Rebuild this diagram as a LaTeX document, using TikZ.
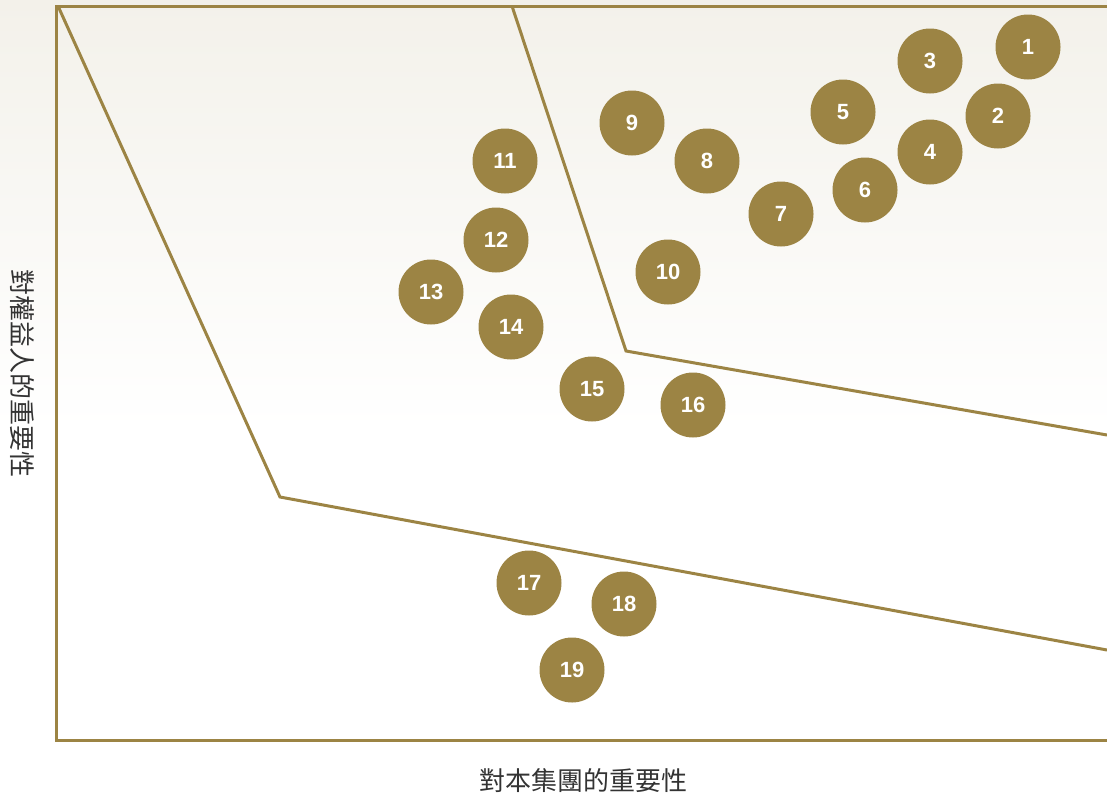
\documentclass[tikz,border=0pt]{standalone}
\usepackage{fontspec}
\setmainfont{Liberation Sans}
\newfontfamily\cjk{Noto Sans CJK TC}
\usepackage{tikz}
\usetikzlibrary{positioning}
\usepackage{xcolor}
\definecolor{gold}{HTML}{9C8444}
\definecolor{paper}{HTML}{F3F1EA}
\definecolor{labelgray}{HTML}{333333}

\begin{document}
\begin{tikzpicture}[x=1pt, y=-1pt,
    dot/.style={circle, fill=gold, text=white, minimum size=65pt, inner sep=0pt, font=\fontsize{22}{22}\selectfont\bfseries},
    zone/.style={draw=gold, line width=3pt, line join=miter}]
    \useasboundingbox (0,0) rectangle (1107,798);
    \shade[top color=paper, bottom color=white] (0,0) rectangle (1107,430);
    % axes
    \draw[zone] (1107,6) -- (56,6) -- (56,740) -- (1107,740);
    % zone borders
    \draw[zone] (58,6) -- (280,497) -- (1107,650);
    \draw[zone] (512,6) -- (626,351) -- (1107,435);
    % topics
    \node[dot] (c1) at (1028,47) {1};
    \node[dot] (c2) at (998,116) {2};
    \node[dot] (c3) at (930,61) {3};
    \node[dot] (c4) at (930,152) {4};
    \node[dot] (c5) at (843,112) {5};
    \node[dot] (c6) at (865,190) {6};
    \node[dot] (c7) at (781,214) {7};
    \node[dot] (c8) at (707,161) {8};
    \node[dot] (c9) at (632,123) {9};
    \node[dot] (c10) at (668,272) {10};
    \node[dot] (c11) at (505,161) {11};
    \node[dot] (c12) at (496,240) {12};
    \node[dot] (c13) at (431,292) {13};
    \node[dot] (c14) at (511,327) {14};
    \node[dot] (c15) at (592,389) {15};
    \node[dot] (c16) at (693,405) {16};
    \node[dot] (c17) at (529,583) {17};
    \node[dot] (c18) at (624,604) {18};
    \node[dot] (c19) at (572,670) {19};
    % axis labels
    \node[text=labelgray, font=\cjk\fontsize{26}{26}\selectfont] (xlab) at (583,781) {對本集團的重要性};
    \node[text=labelgray, font=\cjk\fontsize{26}{26}\selectfont, rotate=-90] (ylab) at (22,373) {對權益人的重要性};
\end{tikzpicture}
\end{document}
